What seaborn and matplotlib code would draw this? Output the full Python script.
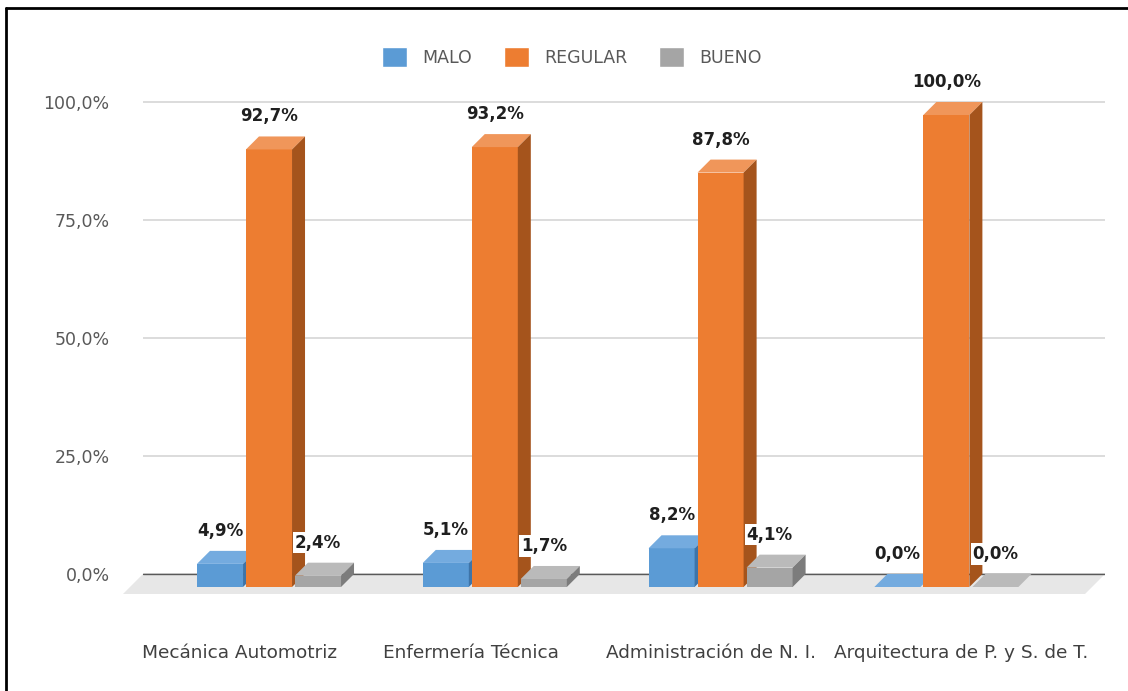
import pandas as pd
import matplotlib
matplotlib.use("Agg")
import matplotlib.pyplot as plt
import seaborn as sns
from matplotlib.patches import Polygon
from matplotlib.lines import Line2D

# data
categories = ["Mecánica Automotriz", "Enfermería Técnica",
              "Administración de N. I.", "Arquitectura de P. y S. de T."]
niveles = ["MALO", "REGULAR", "BUENO"]
malo = [4.9, 5.1, 8.2, 0.0]
regular = [92.7, 93.2, 87.8, 100.0]
bueno = [2.4, 1.7, 4.1, 0.0]
y_ticks = [0, 25, 50, 75, 100]

front_cols = ["#5B9BD5", "#ED7D31", "#A5A5A5"]
top_cols = ["#74ABDF", "#F0965A", "#BABABA"]
side_cols = ["#3E74A8", "#A5541C", "#7C7C7C"]

# horizontal shift of category labels (3d perspective look), pixels
label_shift = [-42, -37, -23, 2]

W, H = 1128, 691


def pct(v):
    return f"{v:.1f}%".replace(".", ",")


df = pd.DataFrame({
    "carrera": categories * 3,
    "nivel": [n for n in niveles for _ in categories],
    "pct": malo + regular + bueno,
})

sns.set_style("white")
plt.rcParams["font.family"] = ["DejaVu Sans"]

fig = plt.figure(figsize=(W / 100, H / 100), dpi=100)
ax_bottom, ax_top = 597.6, 78.4
ax = fig.add_axes([143 / W, (H - ax_bottom) / H, 962 / W, (ax_bottom - ax_top) / H])

sns.barplot(data=df, x="carrera", y="pct", hue="nivel", order=categories,
            hue_order=niveles, palette=front_cols, width=0.651, gap=0.06,
            saturation=1, errorbar=None, ax=ax)

xl, xr = -0.6156, 3.645
ax.set_xlim(xl, xr)
ax.set_ylim(-5, 105)

# data units per pixel
inv = ax.transData.inverted()
p0 = inv.transform((0, 0))
p1 = inv.transform((1, 1))
ux, uy = p1[0] - p0[0], p1[1] - p0[1]
depth = 13
ddx, ddy = depth * ux, depth * uy

# floor
fl = 20
floor = Polygon([(xl, 0), (xr, 0), (xr - fl * ux, -fl * uy), (xl - fl * ux, -fl * uy)],
                closed=True, fc="#e7e7e7", ec="none", zorder=1, clip_on=False)
ax.add_patch(floor)
ax.axhline(0, color="#595959", lw=1.0, zorder=1.5)

# 3d faces
for k, cont in enumerate(ax.containers):
    for bar in cont:
        x, w, h = bar.get_x(), bar.get_width(), bar.get_height()
        fx, fy = x - ddx, -ddy
        z = 3 + 0.1 * k
        bar.set_x(fx)
        bar.set_y(fy)
        bar.set_linewidth(0)
        bar.set_zorder(z)
        bar.set_clip_on(False)
        top = Polygon([(fx, fy + h), (fx + w, fy + h), (fx + w + ddx, fy + h + ddy),
                       (fx + ddx, fy + h + ddy)], closed=True, fc=top_cols[k],
                      ec="none", zorder=z, clip_on=False)
        side = Polygon([(fx + w, fy), (fx + w + ddx, fy + ddy),
                        (fx + w + ddx, fy + h + ddy), (fx + w, fy + h)], closed=True,
                       fc=side_cols[k], ec="none", zorder=z, clip_on=False)
        ax.add_patch(top)
        ax.add_patch(side)
        ax.annotate(pct(h), (fx + w / 2, h), xytext=(0, 20), textcoords="offset pixels",
                    ha="center", va="center", fontsize=12, fontweight="bold",
                    color="#1f1f1f", zorder=10,
                    bbox=dict(boxstyle="square,pad=0.1", fc="white", ec="none"))

# axes styling
ax.set_yticks(y_ticks)
ax.set_yticklabels([pct(t) for t in y_ticks])
ax.tick_params(axis="y", length=0, pad=24, labelsize=12.5, labelcolor="#595959")
ax.yaxis.grid(True, color="#d9d9d9", lw=1.3)
ax.set_axisbelow(True)
ax.set_xticks([])
ax.set_xlabel("")
ax.set_ylabel("")
sns.despine(ax=ax, left=True, bottom=True)

for i, (cat, off) in enumerate(zip(categories, label_shift)):
    ax.annotate(cat, (i, 0), xycoords=("data", "axes fraction"), xytext=(off, -55),
                textcoords="offset pixels", ha="center", va="center",
                fontsize=13.3, color="#404040", annotation_clip=False)

sns.move_legend(ax, "center", bbox_to_anchor=(572 / W, 1 - 57 / H),
                bbox_transform=fig.transFigure, ncol=3, frameon=False, title=None,
                fontsize=12.5, handlelength=1.45, handleheight=1.4,
                handletextpad=0.9, columnspacing=1.8)
for t in ax.get_legend().get_texts():
    t.set_color("#595959")

# frame of the original picture
fig.add_artist(Line2D([6 / W, 6 / W], [0, 1 - 8 / H], transform=fig.transFigure,
                      color="black", lw=2))
fig.add_artist(Line2D([6 / W, 1], [1 - 8 / H, 1 - 8 / H], transform=fig.transFigure,
                      color="black", lw=2))

fig.savefig("out.png", dpi=100)
